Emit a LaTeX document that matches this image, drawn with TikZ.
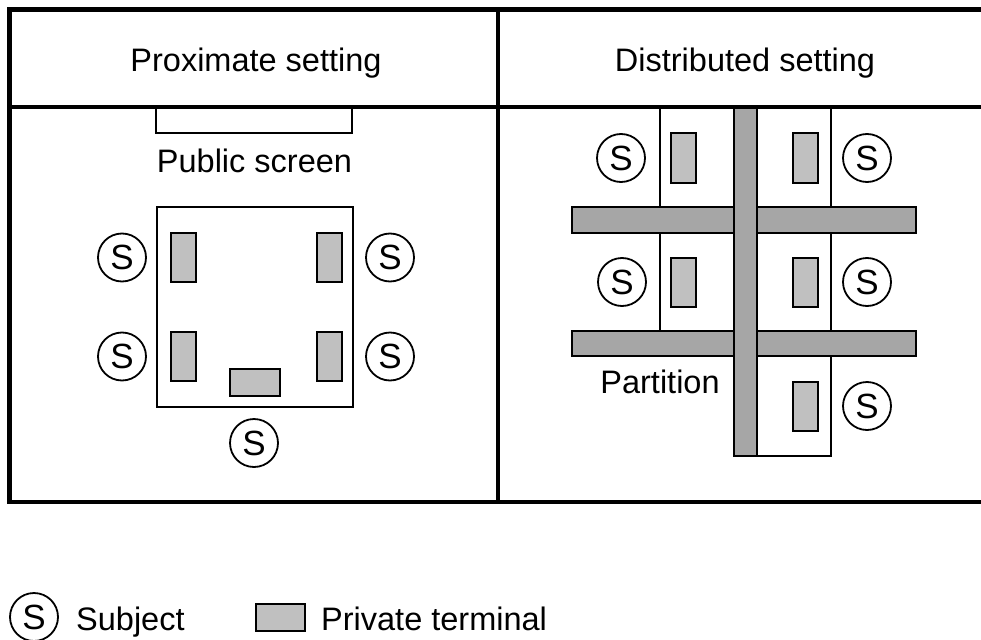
\documentclass[tikz,border=0pt]{standalone}
\usepackage{fontspec}
\setmainfont{Liberation Sans}
\definecolor{termgray}{HTML}{C0C0C0}
\definecolor{partgray}{HTML}{A6A6A6}
\tikzset{
  frame/.style={line width=4.6pt},
  thinline/.style={line width=1.6pt},
  lbl/.style={font=\fontsize{32.5}{36}\selectfont, inner sep=0pt, anchor=base},
  subj/.style={circle, draw, line width=1.8pt, minimum size=48pt, inner sep=0pt, font=\fontsize{35}{38}\selectfont},
  vterm/.style={draw, line width=2pt, fill=termgray, minimum width=25pt, minimum height=49pt, inner sep=0pt},
  hterm/.style={draw, line width=2pt, fill=termgray, minimum width=50pt, minimum height=27pt, inner sep=0pt},
  partbar/.style={draw, line width=2pt, fill=partgray}
}
\begin{document}
\begin{tikzpicture}[x=1pt,y=-1pt]
\useasboundingbox (0,0) rectangle (981,639);
% frame
\draw[frame] (983,9.5) -- (9.5,9.5) -- (9.5,502) -- (983,502);
\draw[frame] (9.5,107) -- (983,107);
\draw[frame] (498,9.5) -- (498,502);
% headers
\node[lbl] (hprox) at (256,72) {Proximate setting};
\node[lbl] (hdist) at (745,72) {Distributed setting};
% ---------- proximate setting
\draw[thinline] (156,108) -- (156,133) -- (352,133) -- (352,108);
\node[lbl] (pubtext) at (254.5,172) {Public screen};
\node[draw, thinline, minimum width=196pt, minimum height=200pt, inner sep=0pt] (table) at (255,307) {};
\node[vterm] (pt1) at (183.5,257.5) {};
\node[vterm] (pt2) at (183.5,356.5) {};
\node[vterm] (pt3) at (329.5,257.5) {};
\node[vterm] (pt4) at (329.5,356.5) {};
\node[hterm] (pt5) at (255,382.5) {};
\node[subj] (ps1) at (122,257.5) {S};
\node[subj] (ps2) at (122,356.5) {S};
\node[subj] (ps3) at (390,257.5) {S};
\node[subj] (ps4) at (390,356.5) {S};
\node[subj] (ps5) at (254,443) {S};
% ---------- distributed setting
\draw[thinline] (660,108) -- (660,207);
\draw[thinline] (660,233) -- (660,331);
\draw[thinline] (831,108) -- (831,207);
\draw[thinline] (831,233) -- (831,331);
\draw[thinline] (831,356) -- (831,456) -- (757,456);
\draw[partbar] (572,207) rectangle (916,233);
\draw[partbar] (572,331) rectangle (916,356);
\draw[partbar] (734,108) rectangle (757,456);
\node[vterm] (dt1) at (683.5,158) {};
\node[vterm] (dt2) at (805.5,158) {};
\node[vterm] (dt3) at (683,282) {};
\node[vterm] (dt4) at (805,282) {};
\node[vterm] (dt5) at (805,406) {};
\node[subj] (ds1) at (621,158) {S};
\node[subj] (ds2) at (867,158) {S};
\node[subj] (ds3) at (622,282) {S};
\node[subj] (ds4) at (867,282) {S};
\node[subj] (ds5) at (867,406) {S};
\node[lbl] (parttext) at (660,393) {Partition};
% ---------- legend
\node[subj] (lsubj) at (34,617) {S};
\node[lbl, anchor=base west] (lsubjtext) at (76,630) {Subject};
\node[draw, line width=2pt, fill=termgray, minimum width=49pt, minimum height=27pt, inner sep=0pt] (lterm) at (280.5,617) {};
\node[lbl, anchor=base west] (ltermtext) at (321,630) {Private terminal};
\end{tikzpicture}
\end{document}
